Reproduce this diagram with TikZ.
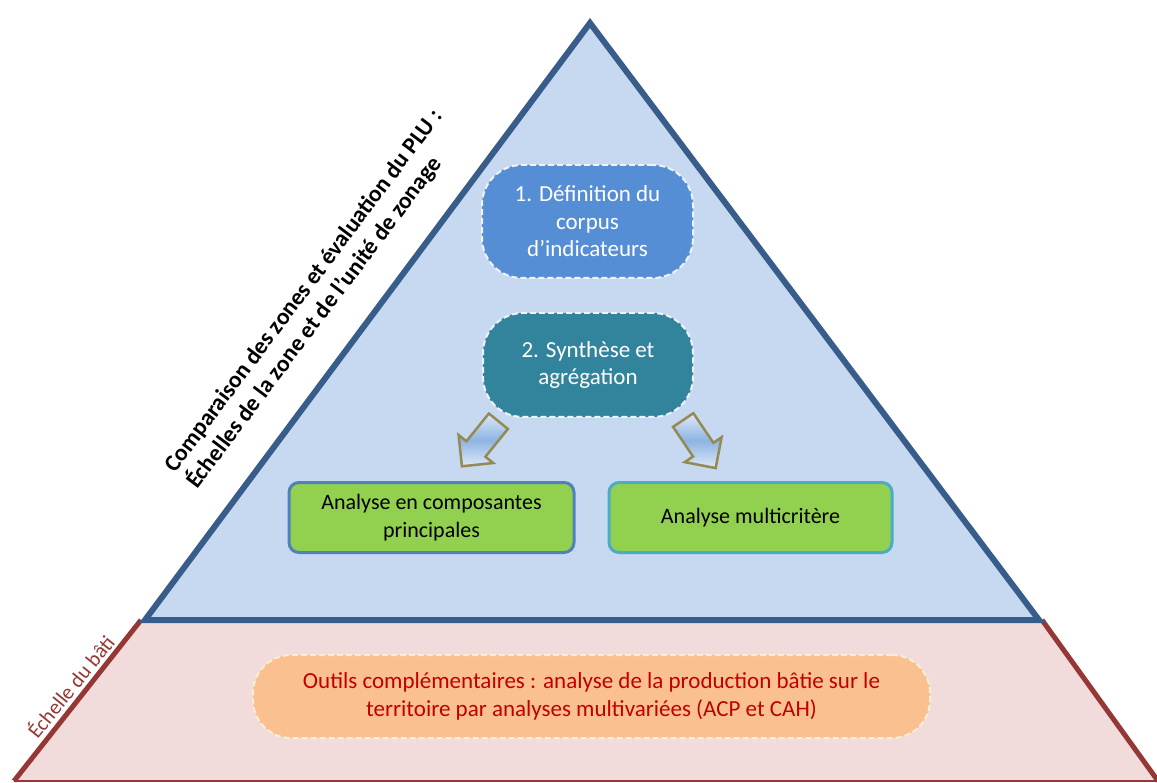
\documentclass[tikz,border=0pt]{standalone}
\usepackage{fontspec}
\setmainfont{Carlito}
\usetikzlibrary{shapes.arrows,calc}
\definecolor{trifill}{HTML}{C6D9F1}
\definecolor{triline}{HTML}{385D8A}
\definecolor{trapfill}{HTML}{F2DCDB}
\definecolor{trapline}{HTML}{953735}
\definecolor{boxone}{HTML}{558ED5}
\definecolor{boxtwo}{HTML}{31849B}
\definecolor{greenbox}{HTML}{92D050}
\definecolor{greenlineA}{HTML}{4F81BD}
\definecolor{greenlineB}{HTML}{4BACC6}
\definecolor{orangebox}{HTML}{FAC090}
\definecolor{orangetext}{HTML}{C00000}
\definecolor{arrowline}{HTML}{948A54}
\definecolor{arrowmid}{HTML}{8EB4E3}
\definecolor{dashcol}{HTML}{EEF3F8}
\definecolor{dashcream}{HTML}{F8EED8}
\tikzset{
  stadium/.style={draw=dashcol, line width=2pt, dash pattern=on 6pt off 3pt,
    rounded corners=40pt, text=white, align=center, inner sep=0pt,
    font=\fontsize{23}{27.5}\selectfont},
  greenstep/.style={fill=greenbox, line width=3pt, rounded corners=10pt,
    align=center, inner sep=0pt, minimum width=283pt, minimum height=70pt,
    font=\fontsize{22}{28}\selectfont},
  blockarrow/.style={single arrow, draw=arrowline, line width=2.5pt,
    minimum height=58pt, inner xsep=0pt, inner ysep=11pt, text height=0pt, text depth=0pt,
    single arrow head extend=10pt,
    shading=axis, top color=trifill!60!white,
    bottom color=trifill!60!white, middle color=arrowmid},
}
\begin{document}
\begin{tikzpicture}[x=1pt,y=-1pt]
\useasboundingbox (0,0) rectangle (1157,783);
% lower trapezoid
\coordinate (TL) at (141,620);
\coordinate (TR) at (1042,620);
\coordinate (BR) at (1158,781);
\coordinate (BL) at (14,781);
\fill[trapfill] (TL) -- (TR) -- (BR) -- (BL) -- cycle;
\draw[trapline, line width=5pt] (TL) -- (BL);
\draw[trapline, line width=5pt] (TR) -- (BR);
\draw[trapline, line width=2.5pt] (BL) -- (BR);
% triangle
\coordinate (TT) at (590,23);
\coordinate (TA) at (145,620);
\coordinate (TB) at (1039,620);
\filldraw[fill=trifill, draw=triline, line width=6pt] (TT) -- (TB) -- (TA) -- cycle;
% side texts
\node[rotate=53.1, anchor=west, align=left, inner sep=0pt,
  font=\fontsize{23.5}{27.8}\selectfont\bfseries] (side) at (181,478)
  {Comparaison des zones et évaluation du PLU :\\Échelles de la zone et de l’unité de zonage};
\node[rotate=51, text=trapline, inner sep=0pt,
  font=\fontsize{21}{24}\selectfont] (bati) at (70,686) {Échelle du bâti};
% boxes
\node[stadium, fill=boxone, minimum width=211pt, minimum height=113pt] (b1) at (587.5,221.5)
  {1. Définition du\\corpus\\d’indicateurs};
\node[stadium, fill=boxtwo, minimum width=210pt, minimum height=104pt] (b2) at (588,365)
  {2. Synthèse et\\agrégation};
\node[greenstep, draw=greenlineA, minimum width=285pt] (g1) at (431.5,517.5)
  {Analyse en composantes\\principales};
\node[greenstep, draw=greenlineB] (g2) at (750.5,517.5) {Analyse multicritère};
\node[stadium, fill=orangebox, draw=dashcream, rounded corners=38pt, text=orangetext,
  minimum width=677pt, minimum height=83pt] (o) at (591.5,696.5)
  {Outils complémentaires : analyse de la production bâtie sur le\\territoire par analyses multivariées (ACP et CAH)};
% block arrows
\node[blockarrow, rotate=-129] (a1) at (484,439) {};
\node[blockarrow, rotate=-56] (a2) at (696,439) {};
\end{tikzpicture}
\end{document}
